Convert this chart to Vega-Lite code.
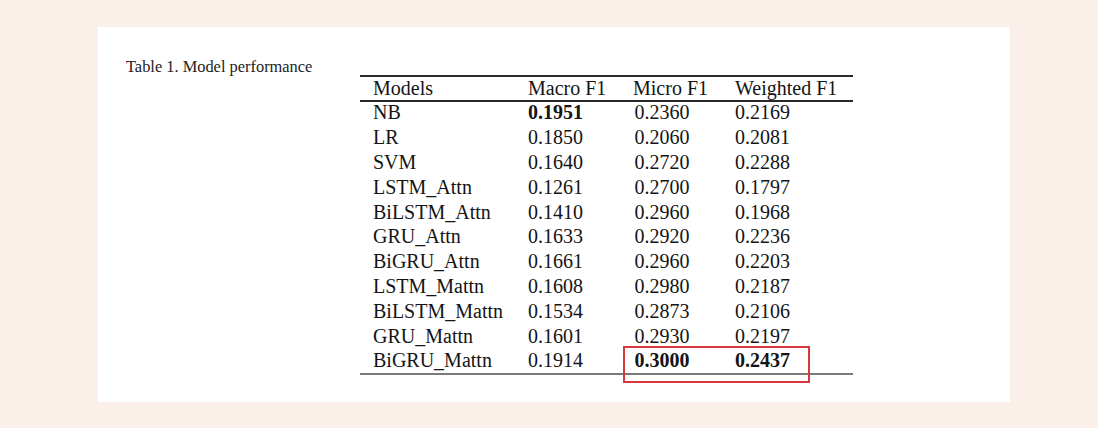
{
  "$schema": "https://vega.github.io/schema/vega-lite/v6.json",
  "width": 912,
  "height": 375,
  "autosize": {"type": "none"},
  "padding": {"left": 98, "top": 27, "right": 88, "bottom": 26},
  "background": "#fbefe9",
  "config": {
    "view": {"fill": "#ffffff", "stroke": null},
    "text": {"font": "Liberation Serif", "fontSize": 20, "color": "#141414", "align": "left", "baseline": "middle"}
  },
  "title": {
    "text": "Table 1. Model performance",
    "font": "Liberation Serif",
    "fontSize": 16.4,
    "fontWeight": "normal",
    "color": "#222222",
    "anchor": "start",
    "frame": "group",
    "orient": "top",
    "baseline": "alphabetic",
    "offset": -61,
    "dx": 28
  },
  "data": {
    "values": [
      {"Models": "NB", "Macro F1": 0.1951, "Micro F1": 0.2360, "Weighted F1": 0.2169},
      {"Models": "LR", "Macro F1": 0.1850, "Micro F1": 0.2060, "Weighted F1": 0.2081},
      {"Models": "SVM", "Macro F1": 0.1640, "Micro F1": 0.2720, "Weighted F1": 0.2288},
      {"Models": "LSTM_Attn", "Macro F1": 0.1261, "Micro F1": 0.2700, "Weighted F1": 0.1797},
      {"Models": "BiLSTM_Attn", "Macro F1": 0.1410, "Micro F1": 0.2960, "Weighted F1": 0.1968},
      {"Models": "GRU_Attn", "Macro F1": 0.1633, "Micro F1": 0.2920, "Weighted F1": 0.2236},
      {"Models": "BiGRU_Attn", "Macro F1": 0.1661, "Micro F1": 0.2960, "Weighted F1": 0.2203},
      {"Models": "LSTM_Mattn", "Macro F1": 0.1608, "Micro F1": 0.2980, "Weighted F1": 0.2187},
      {"Models": "BiLSTM_Mattn", "Macro F1": 0.1534, "Micro F1": 0.2873, "Weighted F1": 0.2106},
      {"Models": "GRU_Mattn", "Macro F1": 0.1601, "Micro F1": 0.2930, "Weighted F1": 0.2197},
      {"Models": "BiGRU_Mattn", "Macro F1": 0.1914, "Micro F1": 0.3000, "Weighted F1": 0.2437}
    ]
  },
  "transform": [
    {"window": [{"op": "row_number", "as": "idx"}]}
  ],
  "layer": [
    {
      "mark": {"type": "rule", "stroke": "#2a2a2a", "strokeWidth": 1.3, "xOffset": -13, "x2Offset": 118},
      "encoding": {
        "x": {"datum": "Models", "type": "nominal", "scale": {"type": "point", "domain": ["Models", "Macro F1", "Micro F1", "Weighted F1"], "range": [275, 637], "padding": 0}, "axis": null},
        "x2": {"datum": "Weighted F1"},
        "y": {"datum": -0.5, "type": "quantitative", "scale": {"domain": [0, 11], "range": [61.5, 334.3], "nice": false, "zero": false}, "axis": null}
      }
    },
    {
      "mark": {"type": "rule", "stroke": "#2a2a2a", "strokeWidth": 1.3, "xOffset": -13, "x2Offset": 118},
      "encoding": {
        "x": {"datum": "Models", "type": "nominal", "axis": null},
        "x2": {"datum": "Weighted F1"},
        "y": {"datum": 0.5, "type": "quantitative", "axis": null}
      }
    },
    {
      "mark": {"type": "rule", "stroke": "#7a7a7a", "strokeWidth": 1.6, "xOffset": -13, "x2Offset": 118},
      "encoding": {
        "x": {"datum": "Models", "type": "nominal", "axis": null},
        "x2": {"datum": "Weighted F1"},
        "y": {"datum": 11.5, "type": "quantitative", "axis": null}
      }
    },
    {
      "data": {"values": [{"col": "Models"}, {"col": "Macro F1"}, {"col": "Micro F1"}, {"col": "Weighted F1"}]},
      "mark": {"type": "text", "dx": {"expr": "datum.col == 'Macro F1' ? 34.3 : datum.col == 'Micro F1' ? 18.7 : 0"}},
      "encoding": {
        "x": {"field": "col", "type": "nominal", "axis": null},
        "y": {"datum": 0, "type": "quantitative", "axis": null},
        "text": {"field": "col", "type": "nominal"}
      }
    },
    {
      "mark": {"type": "text"},
      "encoding": {
        "x": {"datum": "Models", "type": "nominal", "axis": null},
        "y": {"field": "idx", "type": "quantitative", "axis": null},
        "text": {"field": "Models", "type": "nominal"}
      }
    },
    {
      "transform": [
        {"fold": ["Macro F1", "Micro F1", "Weighted F1"], "as": ["col", "value"]},
        {"joinaggregate": [{"op": "max", "field": "value", "as": "colmax"}], "groupby": ["col"]}
      ],
      "mark": {
        "type": "text",
        "dx": {"expr": "datum.col == 'Macro F1' ? 34.3 : datum.col == 'Micro F1' ? 20.2 : 0"},
        "fontWeight": {"expr": "datum.value == datum.colmax ? 'bold' : 'normal'"}
      },
      "encoding": {
        "x": {"field": "col", "type": "nominal", "axis": null},
        "y": {"field": "idx", "type": "quantitative", "axis": null},
        "text": {"field": "value", "type": "quantitative", "format": ".4f"}
      }
    },
    {
      "mark": {"type": "rect", "fill": null, "stroke": "#d8383c", "strokeWidth": 1.4, "xOffset": 9.7, "x2Offset": 74},
      "encoding": {
        "x": {"datum": "Micro F1", "type": "nominal", "axis": null},
        "x2": {"datum": "Weighted F1"},
        "y": {"datum": 10.42, "type": "quantitative", "axis": null},
        "y2": {"datum": 11.84}
      }
    }
  ]
}
